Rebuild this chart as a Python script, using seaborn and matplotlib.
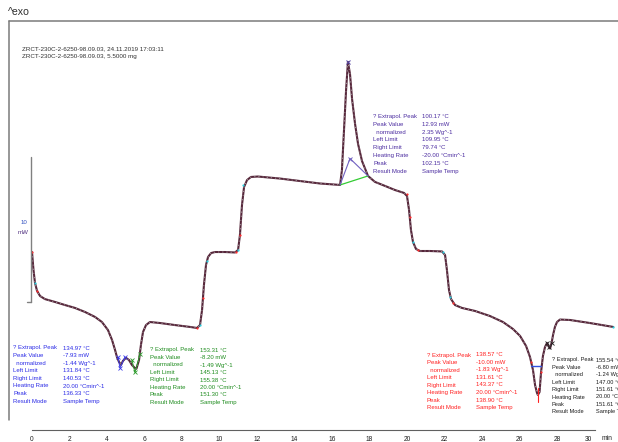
import matplotlib
matplotlib.use("Agg")
import matplotlib.pyplot as plt
import matplotlib.transforms as mtransforms
from matplotlib.lines import Line2D
import numpy as np
import pandas as pd
import seaborn as sns

# ---- DSC signal: time (min) vs heat flow (mW) ----
time_min = [0.00, 0.08, 0.16, 0.27, 0.43, 0.69, 1.23, 1.76, 2.29, 2.83, 3.36, 3.73,
            4.05, 4.27, 4.43, 4.53, 4.64, 4.75, 4.85, 5.01, 5.17, 5.33, 5.49, 5.57,
            5.71, 5.81, 5.92, 6.08, 6.29, 6.83, 7.63, 8.43, 8.80, 8.96, 9.07, 9.17,
            9.28, 9.39, 9.55, 9.76, 10.29, 10.83, 10.99, 11.09, 11.20, 11.31, 11.47,
            11.68, 12.05, 13.23, 14.29, 15.36, 16.43, 16.53, 16.64, 16.75, 16.85,
            16.96, 17.07, 17.23, 17.39, 17.60, 17.92, 18.29, 18.83, 19.36, 19.84,
            20.00, 20.11, 20.21, 20.32, 20.48, 20.69, 21.23, 21.87, 22.03, 22.13,
            22.24, 22.35, 22.56, 22.93, 23.63, 24.43, 25.12, 25.65, 26.03, 26.35,
            26.56, 26.72, 26.83, 26.93, 26.98, 27.07, 27.15, 27.25, 27.36, 27.47,
            27.57, 27.63, 27.71, 27.79, 27.89, 28.00, 28.16, 28.69, 29.76, 31.00]
heat_flow_mw = [-0.16, -1.40, -2.29, -2.84, -3.19, -3.40, -3.60, -3.81, -4.01, -4.29,
                -4.63, -4.98, -5.53, -6.22, -6.91, -7.39, -7.73, -7.93, -7.66, -7.45,
                -7.59, -7.94, -8.15, -8.20, -7.59, -6.56, -5.67, -5.19, -4.98, -5.05,
                -5.19, -5.32, -5.39, -5.19, -4.15, -2.43, -1.05, -0.50, -0.23, -0.16,
                -0.16, -0.19, -0.02, 1.01, 3.08, 4.32, 4.80, 5.01, 5.04, 4.90, 4.73,
                4.56, 4.46, 5.49, 8.23, 10.98, 12.93, 12.10, 10.38, 8.66, 7.28, 6.11,
                5.08, 4.67, 4.39, 4.11, 3.91, 3.70, 2.73, 1.37, 0.53, 0.05, -0.09,
                -0.09, -0.12, -0.37, -1.40, -2.78, -3.40, -3.81, -4.01, -4.22, -4.57,
                -4.98, -5.46, -5.94, -6.63, -7.39, -8.29, -9.32, -9.85, -10.00, -9.80,
                -8.42, -7.32, -6.70, -6.42, -6.70, -6.80, -6.43, -5.87, -5.32, -4.98,
                -4.81, -4.84, -5.05, -5.32]

# evaluation points on the curve (onset / midpoint / endset markers)
red_mark_t = [0.00, 0.27, 8.80, 9.12, 10.88, 11.09, 20.00, 20.16, 20.59, 22.45, 26.61, 27.15]
red_mark_v = [-0.16, -2.84, -5.39, -3.30, -0.19, 1.01, 3.84, 2.25, 0.00, -3.67, -7.70, -8.42]
cyan_mark_t = [0.16, 8.96, 9.33, 10.99, 11.25, 20.32, 21.92, 22.29, 31.00]
cyan_mark_v = [-2.29, -5.19, -0.75, -0.02, 4.46, 0.53, -0.14, -3.25, -5.32]

# peak constructions
exo_baseline_t = [16.43, 17.92]
exo_baseline_v = [4.46, 5.08]
exo_tangent_t = [16.43, 16.96, 17.92]
exo_tangent_v = [4.46, 6.28, 5.08]
blue_peak_t = [4.59, 4.69, 4.96]
blue_peak_v = [-7.39, -8.15, -7.39]
green_peak_t = [5.33, 5.49, 5.76]
green_peak_v = [-7.60, -8.45, -7.20]
red_baseline_t = [26.61, 27.15]
red_baseline_v = [-8.00, -8.00]

# result tables
table_labels = ["? Extrapol. Peak", "Peak Value", "  normalized", "Left Limit",
                "Right Limit", "Heating Rate", "Peak", "Result Mode"]
blue_values = ["134.97 °C", "-7.93 mW", "-1.44 Wg^-1", "131.84 °C", "140.53 °C",
               "20.00 °Cmin^-1", "136.33 °C", "Sample Temp"]
green_values = ["153.31 °C", "-8.20 mW", "-1.49 Wg^-1", "145.13 °C", "155.38 °C",
                "20.00 °Cmin^-1", "151.30 °C", "Sample Temp"]
purple_values = ["100.17 °C", "12.93 mW", "2.35 Wg^-1", "109.95 °C", "79.74 °C",
                 "-20.00 °Cmin^-1", "102.15 °C", "Sample Temp"]
red_values = ["138.57 °C", "-10.00 mW", "-1.83 Wg^-1", "131.61 °C", "143.37 °C",
              "20.00 °Cmin^-1", "138.90 °C", "Sample Temp"]
black_values = ["155.54 °C", "-6.80 mW", "-1.24 Wg^-1", "147.00 °C", "151.61 °C",
                "20.00 °Cmin^-1", "151.61 °C", "Sample Temp"]

header_lines = ["ZRCT-230C-2-6250-98.09.03, 24.11.2019 17:03:11",
                "ZRCT-230C-2-6250-98.09.03, 5.5000 mg"]
x_ticks = list(range(0, 31, 2))
x_minor_ticks = list(range(0, 31, 1))

# ---- figure ----
sns.set_theme(style="white")
plt.rcParams["font.family"] = ["Liberation Sans", "DejaVu Sans"]

W, H = 618, 442
fig = plt.figure(figsize=(W / 100, H / 100), dpi=100)
fig.patch.set_facecolor("white")
ax = fig.add_axes([0, 12 / H, 1, 430 / H])
ax.set_facecolor("none")


def fpos(x, y):
    return x / W, 1 - y / H


df = pd.DataFrame({"time": time_min, "hf": heat_flow_mw})
sns.lineplot(data=df, x="time", y="hf", ax=ax, color="#56263a", lw=1.5,
             sort=False, estimator=None)
ax.plot(time_min, heat_flow_mw, color="#a8a0a4", lw=0.6, dashes=(1.5, 3.5))

# peak evaluation graphics
ax.plot(exo_baseline_t, exo_baseline_v, color="#33cc33", lw=0.9)
ax.plot(exo_tangent_t, exo_tangent_v, color="#7060c0", lw=0.8)
ax.plot([exo_tangent_t[1]], [exo_tangent_v[1]], "x", color="#7060c0", ms=3, mew=0.7)
ax.plot([16.85], [12.93], "x", color="#5040a0", ms=3, mew=0.7)
ax.plot(blue_peak_t, blue_peak_v, color="#3a3ae8", lw=0.7)
ax.plot(blue_peak_t, blue_peak_v, "x", color="#3a3ae8", ms=2.5, mew=0.6)
ax.plot(green_peak_t, green_peak_v, color="#2a9a2a", lw=0.7)
ax.plot(green_peak_t, green_peak_v, "x", color="#2a9a2a", ms=2.5, mew=0.6)
ax.plot(red_baseline_t, red_baseline_v, color="#3050e0", lw=1.0)
ax.plot([26.98, 26.98], [-9.5, -10.5], color="#ff2020", lw=0.8)
ax.plot([27.47, 27.57, 27.71], [-6.42, -6.70, -6.43], "x", color="#202020", ms=2.5, mew=0.6)
ax.plot(red_mark_t, red_mark_v, "o", color="#ff3030", ms=1.6, mew=0)
ax.plot(cyan_mark_t, cyan_mark_v, "o", color="#30d0e0", ms=1.6, mew=0)

# 10 mW scale bar
ax.plot([-0.05, -0.05], [-3.6, 6.4], color="#808080", lw=1.0)
ax.plot([-0.25, -0.05], [-3.6, -3.6], color="#808080", lw=1.0)
ax.text(-0.45, 1.9, "10", fontsize=4.4, color="#3050c0", ha="center", va="center")
ax.text(-0.45, 1.2, "mW", fontsize=4.4, color="#503080", ha="center", va="center")

ax.set_xlim(-32 / 18.75, (W - 32) / 18.75)
ax.set_ylim(-12.417, 17.197)
for side in ["left", "right", "top"]:
    ax.spines[side].set_visible(False)
ax.spines["bottom"].set_bounds(0, 30)
ax.spines["bottom"].set_color("#606060")
ax.spines["bottom"].set_linewidth(0.8)
ax.set_yticks([])
ax.set_xticks(x_ticks, labels=[str(v) for v in x_ticks])
ax.set_xticks(x_minor_ticks, minor=True)
ax.tick_params(axis="x", which="major", direction="in", length=3, width=0.7,
               colors="#505050", labelcolor="#202020", labelsize=4.8, pad=4)
ax.tick_params(axis="x", which="minor", direction="in", length=2, width=0.6,
               colors="#505050")
ax.set_xlabel("")
ax.set_ylabel("")
for lbl in ax.get_xticklabels():
    if lbl.get_text() == "30":
        lbl.set_transform(lbl.get_transform() +
                          mtransforms.ScaledTranslation(-0.06, 0, fig.dpi_scale_trans))
fig.text(*fpos(602, 438.5), "min", fontsize=4.8, color="#202020", ha="left", va="center")

# frame
fig.add_artist(Line2D([8.5 / W, 8.5 / W], [1 - 21 / H, 1 - 420 / H],
                      transform=fig.transFigure, color="#7a7a7a", lw=1.1))
fig.add_artist(Line2D([8.5 / W, 1.0], [1 - 21 / H, 1 - 21 / H],
                      transform=fig.transFigure, color="#7a7a7a", lw=1.1))

fig.text(*fpos(8, 12), "^exo", fontsize=7.6, color="#303030", ha="left", va="center")
for i, line in enumerate(header_lines):
    fig.text(*fpos(22, 49 + 7.8 * i), line, fontsize=4.5, color="#303030",
             ha="left", va="center")


def result_table(x_lab, x_val, y0, dy, values, color, size=4.3):
    for i, (lab, val) in enumerate(zip(table_labels, values)):
        fig.text(*fpos(x_lab, y0 + dy * i), lab, fontsize=size, color=color,
                 ha="left", va="center")
        fig.text(*fpos(x_val, y0 + dy * i), val, fontsize=size, color=color,
                 ha="left", va="center")


result_table(13, 63, 348, 7.6, blue_values, "#2a2ae6")
result_table(150, 200, 350, 7.5, green_values, "#1e8c1e")
result_table(373, 422, 116.5, 7.8, purple_values, "#4b2ca0")
result_table(427, 476, 355, 7.5, red_values, "#ff2020")
result_table(552, 596, 360, 7.4, black_values, "#1a1a1a", size=4.1)

fig.savefig("out.png", dpi=100)
